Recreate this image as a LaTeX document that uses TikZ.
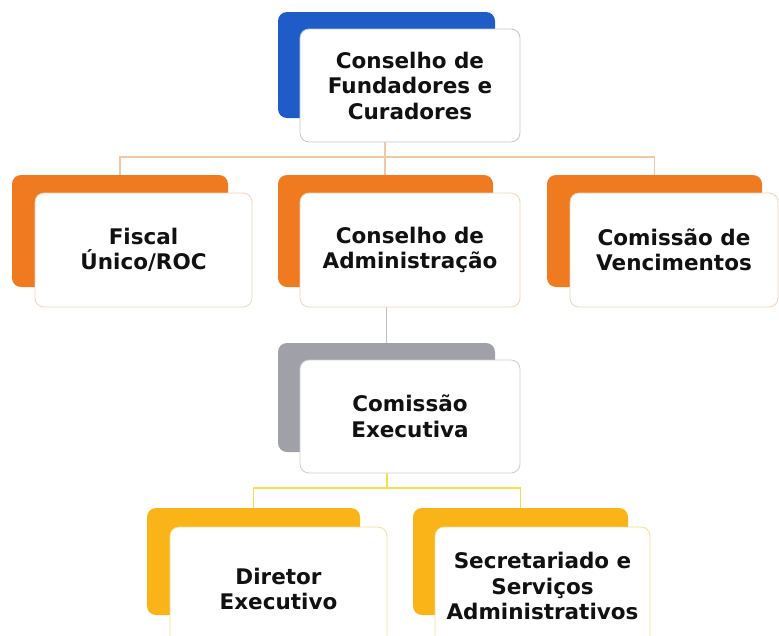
\documentclass[tikz,border=0pt]{standalone}
\usepackage{fontspec}
\setmainfont{DejaVu Sans}
\usetikzlibrary{backgrounds}
\definecolor{cblue}{RGB}{32,92,200}
\definecolor{corange}{RGB}{240,122,32}
\definecolor{cgrey}{RGB}{160,160,168}
\definecolor{cyellow}{RGB}{250,180,24}
\definecolor{bdblue}{RGB}{190,200,215}
\definecolor{bdorange}{RGB}{242,212,180}
\definecolor{bdgrey}{RGB}{205,205,205}
\definecolor{bdyellow}{RGB}{240,225,150}
\definecolor{lorange}{RGB}{242,200,160}
\definecolor{lgrey}{RGB}{190,190,190}
\definecolor{lyellow}{RGB}{246,222,80}
\definecolor{txt}{RGB}{17,17,17}
\begin{document}
\begin{tikzpicture}[x=1pt,y=-1pt,
  backbox/.style={rounded corners=9pt, inner sep=0pt, draw=none},
  frontbox/.style={draw, fill=white, rounded corners=9pt, line width=0.8pt,
    align=center, inner sep=0pt, text=txt,
    font=\bfseries\fontsize{21.5}{25.5}\selectfont},
  conn/.style={line width=1.2pt}]
\useasboundingbox (0,0) rectangle (779,635);
% top
\node[backbox, fill=cblue, minimum width=217pt, minimum height=106pt] (topB) at (386.5,65) {};
\node[frontbox, draw=bdblue, minimum width=220pt, minimum height=113pt] (topF) at (410,85.5) {Conselho de\\Fundadores e\\Curadores};
% row 2
\node[backbox, fill=corange, minimum width=216pt, minimum height=112pt] (fisB) at (120,231) {};
\node[frontbox, draw=bdorange, minimum width=217pt, minimum height=114pt] (fisF) at (143.5,250) {Fiscal\\Único/ROC};
\node[backbox, fill=corange, minimum width=215pt, minimum height=112pt] (admB) at (385.5,231) {};
\node[frontbox, draw=bdorange, minimum width=220pt, minimum height=114pt] (admF) at (410,250) {Conselho de\\Administração};
\node[backbox, fill=corange, minimum width=215pt, minimum height=112pt] (venB) at (654.5,231) {};
\node[frontbox, draw=bdorange, minimum width=208pt, minimum height=114pt] (venF) at (674,250) {Comissão de\\Vencimentos};
% row 3
\node[backbox, fill=cgrey, minimum width=217pt, minimum height=109pt] (exB) at (386.5,397.5) {};
\node[frontbox, draw=bdgrey, minimum width=220pt, minimum height=113pt] (exF) at (410,416.5) {Comissão\\Executiva};
% row 4
\node[backbox, fill=cyellow, minimum width=213pt, minimum height=107pt] (dirB) at (253.5,561.5) {};
\node[frontbox, draw=bdyellow, minimum width=217pt, minimum height=124pt] (dirF) at (278.5,589) {Diretor\\Executivo};
\node[backbox, fill=cyellow, minimum width=215pt, minimum height=107pt] (secB) at (520.5,561.5) {};
\node[frontbox, draw=bdyellow, minimum width=215pt, minimum height=118pt] (secF) at (542.5,586) {Secretariado e\\Serviços\\Administrativos};
% connectors
\coordinate (j1) at (385,157);
\coordinate (j2) at (387,488);
\begin{pgfonlayer}{background}
\fill[white] (0,0) rectangle (779,635);
\draw[conn, lorange] (topF.south -| j1) -- (j1);
\draw[conn, lorange] (fisB.north) |- (j1) -| (venB.north);
\draw[conn, lorange] (j1) -- (j1 |- admB.north);
\draw[conn, lgrey] (admF.south -| exB.north) -- (exB.north);
\draw[conn, lyellow] (exF.south -| j2) -- (j2);
\draw[conn, lyellow] (dirB.north) |- (j2) -| (secB.north);
\end{pgfonlayer}
\end{tikzpicture}
\end{document}
